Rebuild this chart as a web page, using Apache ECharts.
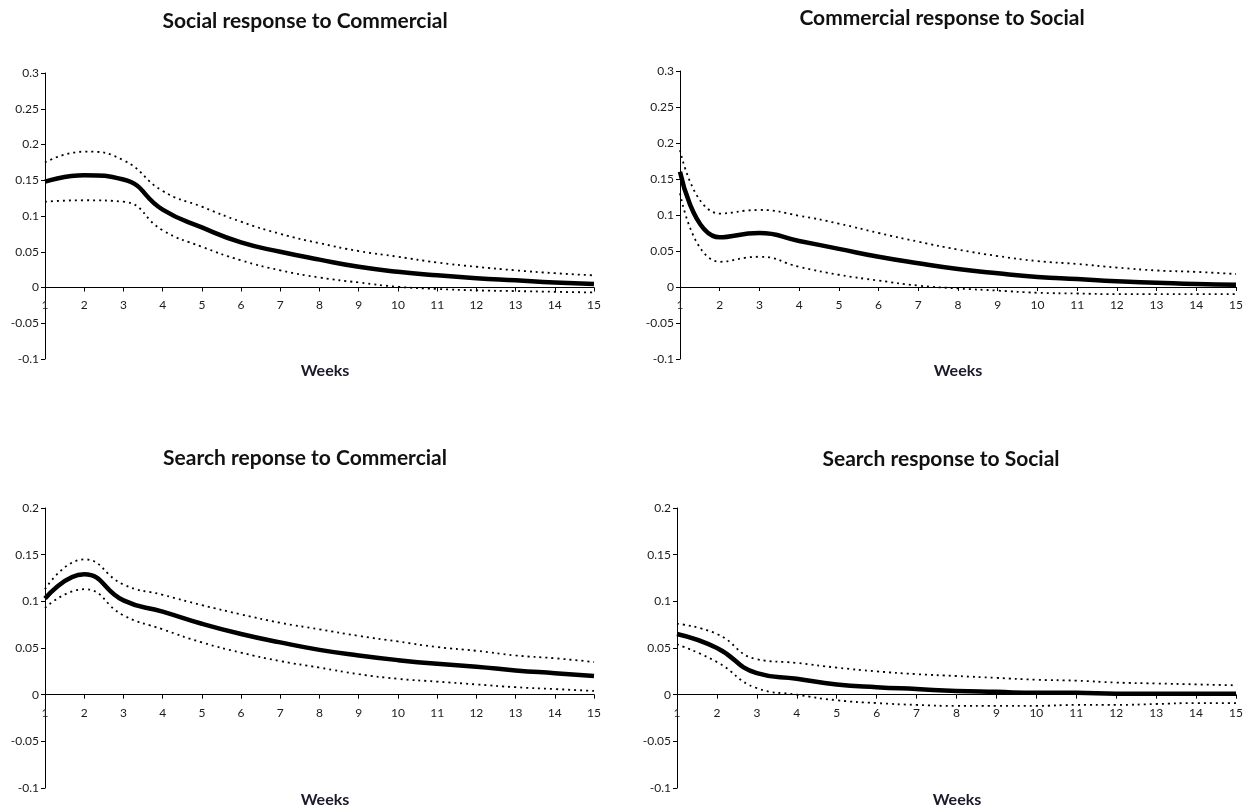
<!DOCTYPE html>
<html>
<head>
<meta charset="utf-8">
<script src="https://cdn.jsdelivr.net/npm/echarts@6/dist/echarts.min.js"></script>
<style>html,body{margin:0;padding:0;background:#fff}#c{width:1249px;height:808px}</style>
</head>
<body>
<div id="c"></div>
<script>
const weeks = [1,2,3,4,5,6,7,8,9,10,11,12,13,14,15];

const titles = ["Social response to Commercial", "Commercial response to Social", "Search reponse to Commercial", "Search response to Social"];
const xAxisName = "Weeks";

// Panel 1: Social response to Commercial
const p1Mean  = [0.148,0.157,0.151,0.109,0.084,0.063,0.050,0.039,0.029,0.022,0.017,0.013,0.010,0.007,0.005];
const p1Upper = [0.175,0.190,0.178,0.135,0.113,0.092,0.075,0.062,0.051,0.043,0.035,0.029,0.024,0.020,0.017];
const p1Lower = [0.120,0.122,0.120,0.080,0.057,0.038,0.024,0.014,0.007,0.001,-0.002,-0.004,-0.005,-0.006,-0.007];

// Panel 2: Commercial response to Social
const p2Mean  = [0.160,0.069,0.075,0.064,0.053,0.042,0.033,0.025,0.019,0.014,0.011,0.008,0.006,0.004,0.003];
const p2Upper = [0.190,0.102,0.107,0.099,0.088,0.075,0.063,0.052,0.043,0.036,0.032,0.027,0.023,0.021,0.018];
const p2Lower = [0.130,0.035,0.042,0.028,0.017,0.009,0.002,-0.002,-0.005,-0.008,-0.009,-0.010,-0.010,-0.010,-0.010];

// Panel 3: Search reponse to Commercial
const p3Mean  = [0.103,0.129,0.101,0.089,0.076,0.065,0.056,0.048,0.042,0.037,0.033,0.030,0.026,0.023,0.020];
const p3Upper = [0.113,0.145,0.118,0.107,0.096,0.086,0.077,0.070,0.063,0.057,0.051,0.047,0.042,0.039,0.035];
const p3Lower = [0.093,0.113,0.085,0.070,0.056,0.045,0.036,0.029,0.022,0.017,0.014,0.011,0.008,0.006,0.004];

// Panel 4: Search response to Social
const p4Mean  = [0.065,0.050,0.023,0.017,0.011,0.008,0.006,0.004,0.003,0.002,0.002,0.001,0.001,0.001,0.001];
const p4Upper = [0.076,0.065,0.038,0.034,0.029,0.025,0.022,0.020,0.018,0.016,0.015,0.013,0.012,0.011,0.010];
const p4Lower = [0.054,0.035,0.007,0.000,-0.006,-0.009,-0.011,-0.012,-0.012,-0.012,-0.011,-0.011,-0.010,-0.009,-0.009];

const yTop = [0.3, 0.3, 0.2, 0.2];
const yBottom = [-0.1, -0.1, -0.1, -0.1];
const yStep = [0.05, 0.05, 0.05, 0.05];

const panels = [
  [p1Mean, p1Upper, p1Lower],
  [p2Mean, p2Upper, p2Lower],
  [p3Mean, p3Upper, p3Lower],
  [p4Mean, p4Upper, p4Lower]
];

// layout
const grids = [
  {left: 45,  top: 73,  width: 549, height: 286},
  {left: 680, top: 71,  width: 556, height: 288},
  {left: 45,  top: 508, width: 549, height: 280},
  {left: 677, top: 508, width: 559, height: 280}
];
const titlePos = [[300, 6], [937, 3], [300, 443], [936, 444]];
const namePos = [[320, 358], [953, 358], [320, 787], [952, 787]];

const FONT = "Lato, 'Open Sans', sans-serif";

const option = {
  animation: false,
  backgroundColor: '#fff',
  title: [],
  grid: grids.map(g => Object.assign({containLabel: false}, g)),
  xAxis: [],
  yAxis: [],
  series: []
};

panels.forEach((p, i) => {
  option.title.push({
    text: titles[i], left: titlePos[i][0], top: titlePos[i][1], textAlign: 'center',
    textStyle: {fontFamily: FONT, fontWeight: 'bold', fontSize: 21, color: '#111'}
  });
  option.title.push({
    text: xAxisName, left: namePos[i][0], top: namePos[i][1], textAlign: 'center',
    textStyle: {fontFamily: FONT, fontWeight: 'bold', fontSize: 16, color: '#1a1a2a'}
  });
  // place the x axis on the zero line of the y scale
  const zeroOffset = -grids[i].height * (0 - yBottom[i]) / (yTop[i] - yBottom[i]);
  option.xAxis.push({
    type: 'value', gridIndex: i, min: 1, max: 15, interval: 1,
    position: 'bottom', offset: zeroOffset,
    axisLine: {onZero: false, lineStyle: {color: '#000', width: 1}},
    axisTick: {show: true, inside: false, length: 4, lineStyle: {color: '#000'}},
    axisLabel: {color: '#1a1a1a', fontFamily: FONT, fontSize: 12, margin: 12},
    splitLine: {show: false}
  });
  option.yAxis.push({
    type: 'value', gridIndex: i, min: yBottom[i], max: yTop[i], interval: yStep[i],
    axisLine: {show: true, onZero: false, lineStyle: {color: '#000', width: 1}},
    axisTick: {show: true, length: 4, lineStyle: {color: '#000'}},
    axisLabel: {color: '#1a1a1a', fontFamily: FONT, fontSize: 12, margin: 6,
      formatter: v => String(Math.round(v * 1000) / 1000)},
    splitLine: {show: false}
  });
  const mk = (arr, style) => ({
    type: 'line', xAxisIndex: i, yAxisIndex: i, smooth: 0.5, symbol: 'none',
    data: weeks.map((w, k) => [w, arr[k]]), lineStyle: style, z: style.width > 2 ? 3 : 2
  });
  option.series.push(mk(p[1], {color: '#000', width: 1.8, type: [2, 4]}));
  option.series.push(mk(p[2], {color: '#000', width: 1.8, type: [2, 4]}));
  option.series.push(mk(p[0], {color: '#000', width: 4.5, type: 'solid'}));
});

const chart = echarts.init(document.getElementById('c'), null, {renderer: 'canvas'});
chart.setOption(option);
</script>
</body>
</html>
